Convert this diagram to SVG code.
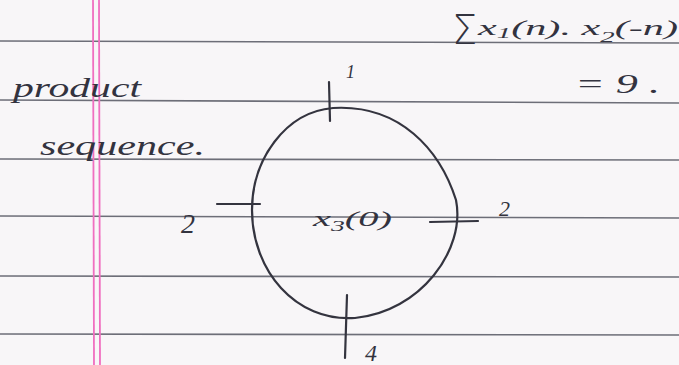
<svg xmlns="http://www.w3.org/2000/svg" width="679" height="365" viewBox="0 0 679 365">
<style>
.rule{stroke:#6d6e78;stroke-width:1.6;fill:none}
.margin{stroke:#f06fc0;stroke-width:1.8;fill:none}
.ink{stroke:#34343f;stroke-width:2.2;fill:none;stroke-linecap:round;stroke-linejoin:round}
.hw{font-family:"Liberation Serif",serif;font-style:italic;fill:#33333f}
</style>
<rect width="679" height="365" fill="#f8f6f8"/>
<g id="paper">
<path class="rule" d="M0 41 L679 43"/>
<path class="rule" d="M0 100 L679 103"/>
<path class="rule" d="M0 159 L679 160"/>
<path class="rule" d="M0 216 L679 218"/>
<path class="rule" d="M0 276 L679 277"/>
<path class="rule" d="M0 334 L679 335"/>
<path class="margin" d="M93 0 L94 365"/>
<path class="margin" d="M99 0 L100 365"/>
</g>
<g id="notes">
<text class="hw" x="13" y="97" font-size="28" textLength="128" lengthAdjust="spacingAndGlyphs">product</text>
<text class="hw" x="40" y="155" font-size="28" textLength="165" lengthAdjust="spacingAndGlyphs">sequence.</text>
<text x="452" y="44" font-size="40" font-family="DejaVu Sans, sans-serif" font-weight="200" fill="#33333f">Σ</text>
<text class="hw" x="478" y="35" font-size="22" textLength="200" lengthAdjust="spacingAndGlyphs">x<tspan font-size="15" dy="3">1</tspan><tspan dy="-3">(n). x</tspan><tspan font-size="15" dy="7">2</tspan><tspan dy="-7">(-n)</tspan></text>
<text class="hw" x="575" y="93" font-size="28" textLength="85" lengthAdjust="spacingAndGlyphs">= 9 .</text>
</g>
<g id="circle">
<path class="ink" d="M333 108 C400 104 440 150 456 200 C466 250 420 312 355 318 C295 322 252 270 252 210 C252 160 285 112 333 108 Z"/>
<text class="hw" x="313" y="226" font-size="22" textLength="79" lengthAdjust="spacingAndGlyphs">x<tspan font-size="15" dy="5">3</tspan><tspan dy="-5">(0)</tspan></text>
</g>
<g id="ticks">
<path class="ink" d="M329 82 L330 121"/>
<path class="ink" d="M217 204 L260 204"/>
<path class="ink" d="M430 222 L478 221"/>
<path class="ink" d="M347 295 L345 358"/>
<text class="hw" x="346" y="78" font-size="18">1</text>
<text class="hw" x="181" y="233" font-size="28">2</text>
<text class="hw" x="499" y="216" font-size="22">2</text>
<text class="hw" x="365" y="361" font-size="24">4</text>
</g>
</svg>
